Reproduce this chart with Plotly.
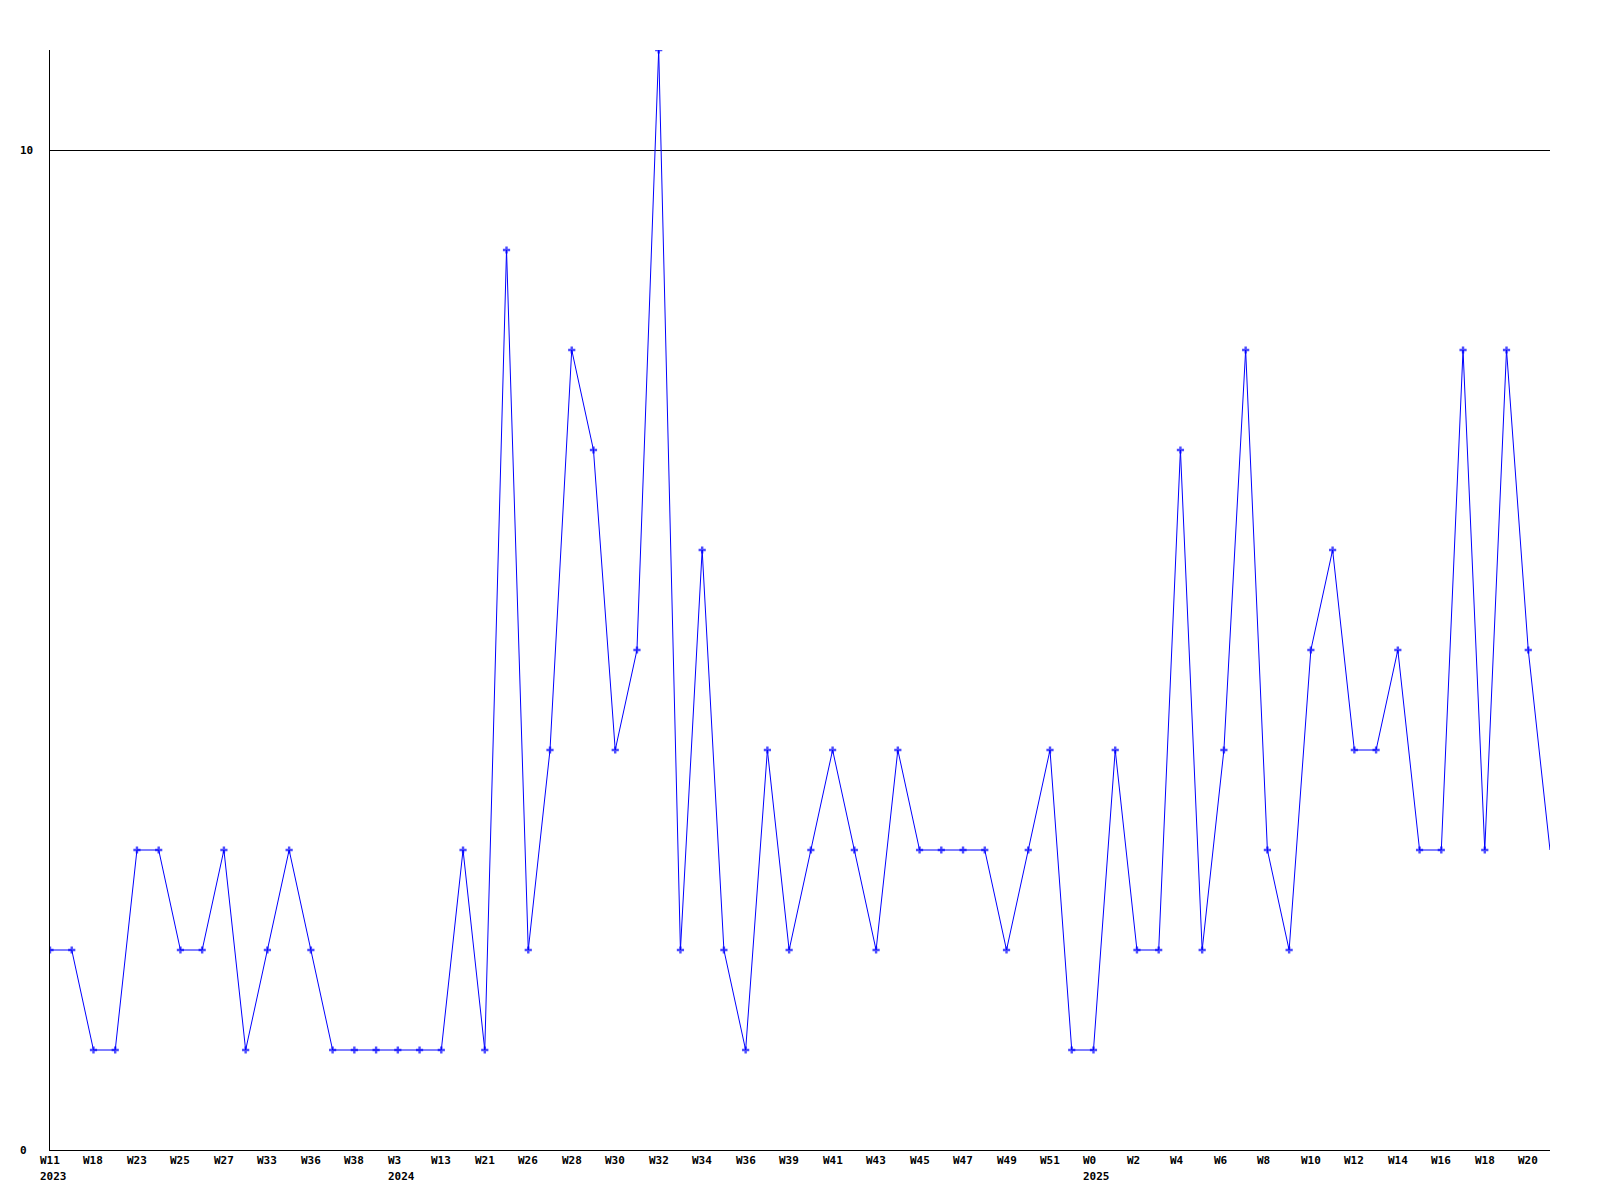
import plotly.graph_objects as go

# Weekly counts (one point per week slot)
values = [2, 2, 1, 1, 3, 3, 2, 2, 3, 1,
          2, 3, 2, 1, 1, 1, 1, 1, 1, 3,
          1, 9, 2, 4, 8, 7, 4, 5, 11, 2,
          6, 2, 1, 4, 2, 3, 4, 3, 2, 4,
          3, 3, 3, 3, 2, 3, 4, 1, 1, 4,
          2, 2, 7, 2, 4, 8, 3, 2, 5, 6,
          4, 4, 5, 3, 3, 8, 3, 8, 5, 3]

# Tick labels shown on every second point
tick_labels = ["W11", "W18", "W23", "W25", "W27", "W33", "W36", "W38", "W3", "W13",
               "W21", "W26", "W28", "W30", "W32", "W34", "W36", "W39", "W41", "W43",
               "W45", "W47", "W49", "W51", "W0", "W2", "W4", "W6", "W8", "W10",
               "W12", "W14", "W16", "W18", "W20"]
year_labels = {"W11": "2023", "W3": "2024", "W0": "2025"}
y_ticks = [0, 10]

n = len(values)
xs = list(range(n))
tick_pos = list(range(0, n, 2))[:len(tick_labels)]

FONT = "DejaVu Sans Mono"

fig = go.Figure()
fig.add_trace(go.Scatter(
    x=xs, y=values, mode="lines+markers",
    line=dict(color="#0000FF", width=1),
    marker=dict(symbol="cross", size=[6] * (n - 1) + [0], color="#0000FF",
                line=dict(width=0)),
    hoverinfo="x+y", showlegend=False,
))

annotations = []
seen_first_year = set()
for pos, lab in zip(tick_pos, tick_labels):
    annotations.append(dict(
        x=pos, y=0, xref="x", yref="paper", text="<b>" + lab + "</b>",
        showarrow=False, xanchor="left", yanchor="top", xshift=-12, yshift=-2,
        font=dict(family=FONT, size=11, color="black")))
    if lab in year_labels and lab not in seen_first_year:
        seen_first_year.add(lab)
        annotations.append(dict(
            x=pos, y=0, xref="x", yref="paper", text="<b>" + year_labels[lab] + "</b>",
            showarrow=False, xanchor="left", yanchor="top", xshift=-12, yshift=-18,
            font=dict(family=FONT, size=11, color="black")))
for yv in y_ticks:
    annotations.append(dict(
        x=0, y=yv, xref="paper", yref="y", text="<b>" + str(yv) + "</b>",
        showarrow=False, xanchor="left", yanchor="middle", xshift=-32,
        font=dict(family=FONT, size=11, color="black")))

fig.update_layout(
    width=1592, height=1192,
    margin=dict(l=42, r=50, t=42, b=50),
    paper_bgcolor="white", plot_bgcolor="white",
    annotations=annotations,
    xaxis=dict(range=[0, n - 1], showgrid=False, zeroline=False,
               showline=True, linecolor="black", linewidth=1,
               showticklabels=False, ticks="", fixedrange=True),
    yaxis=dict(range=[0, 11], tickvals=y_ticks, showgrid=True, gridcolor="black",
               gridwidth=1, zeroline=False, showline=True, linecolor="black",
               linewidth=1, showticklabels=False, ticks="", fixedrange=True),
)

fig.write_html("out.html")
